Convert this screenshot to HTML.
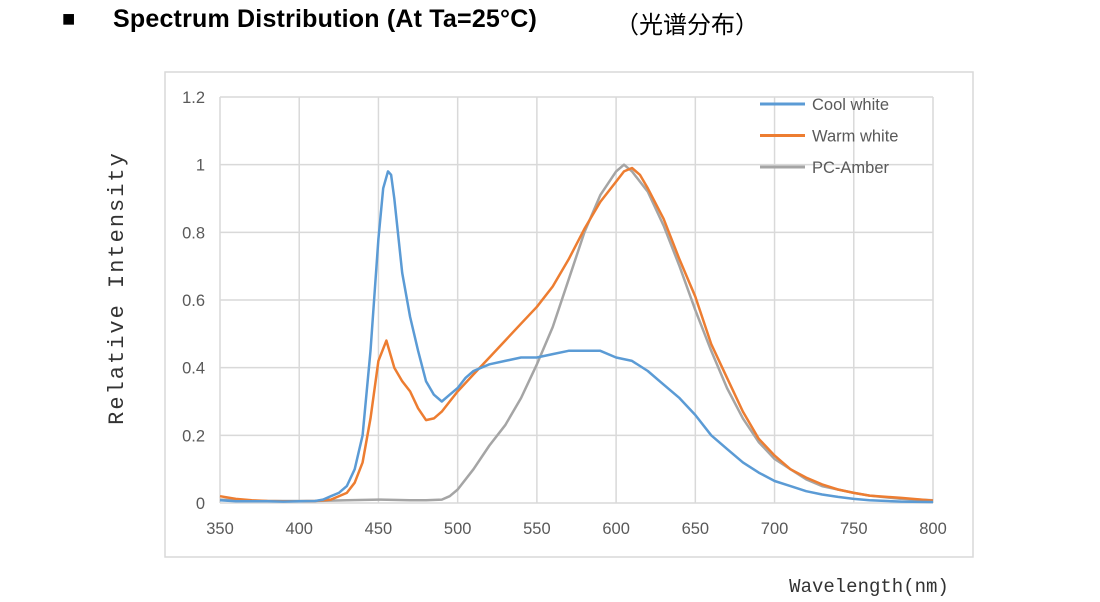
<!DOCTYPE html>
<html><head><meta charset="utf-8"><style>
body{margin:0;width:1100px;height:602px;background:#fff;overflow:hidden;font-family:"Liberation Sans","Noto Sans CJK SC",sans-serif}
.t{position:absolute;top:6px;font-weight:bold;color:#000;white-space:nowrap}
</style></head><body>
<div class="t" style="left:62px;font-size:22px">■</div>
<div class="t" style="left:113px;font-size:25px;top:5px;letter-spacing:0.2px">Spectrum Distribution (At Ta=25°C)</div>
<div class="t" style="left:615px;font-size:24px;top:5px;font-weight:normal">（光谱分布）</div>
<svg id="c" width="1100" height="602" style="position:absolute;left:0;top:0">
<rect x="165" y="72" width="808" height="485" fill="none" stroke="#d9d9d9" stroke-width="1.5"/>
<text x="117" y="288" transform="rotate(-90 117 288)" text-anchor="middle" dominant-baseline="middle" font-family="Liberation Mono,monospace" font-size="22" letter-spacing="2" fill="#333">Relative Intensity</text>
<text x="869" y="592" text-anchor="middle" font-family="Liberation Mono,monospace" font-size="19" fill="#333">Wavelength(nm)</text>
<g id="grid"></g><g id="series"></g><g id="legend"></g>
</svg>
<script>
const xTicks=[350,400,450,500,550,600,650,700,750,800];
const yTicks=[0,0.2,0.4,0.6,0.8,1,1.2];
const yTickLabels=["0","0.2","0.4","0.6","0.8","1","1.2"];
const seriesNames=["Cool white","Warm white","PC-Amber"];
const coolWl=[350,360,370,380,390,400,410,415,420,425,430,435,440,445,450,453,456,458,460,465,470,475,480,485,490,495,500,505,510,520,530,540,550,560,570,580,590,600,610,620,630,640,650,660,670,680,690,700,710,720,730,740,750,760,780,800];
const coolVals=[0.008,0.005,0.005,0.005,0.004,0.005,0.006,0.01,0.02,0.03,0.05,0.1,0.2,0.45,0.78,0.93,0.98,0.97,0.9,0.68,0.55,0.45,0.36,0.32,0.30,0.32,0.34,0.37,0.39,0.41,0.42,0.43,0.43,0.44,0.45,0.45,0.45,0.43,0.42,0.39,0.35,0.31,0.26,0.2,0.16,0.12,0.09,0.065,0.05,0.035,0.025,0.018,0.012,0.008,0.004,0.003];
const warmWl=[350,360,370,380,390,400,410,420,430,435,440,445,450,455,460,465,470,475,480,485,490,495,500,510,520,530,540,550,560,570,580,590,600,605,610,615,620,630,640,650,660,670,680,690,700,710,720,730,740,750,760,780,800];
const warmVals=[0.02,0.012,0.008,0.006,0.005,0.005,0.006,0.01,0.03,0.06,0.12,0.25,0.42,0.48,0.40,0.36,0.33,0.28,0.245,0.25,0.27,0.30,0.33,0.38,0.43,0.48,0.53,0.58,0.64,0.72,0.81,0.89,0.95,0.98,0.99,0.97,0.93,0.84,0.72,0.61,0.47,0.37,0.27,0.19,0.14,0.1,0.075,0.055,0.04,0.03,0.022,0.015,0.007];
const amberWl=[350,370,390,410,430,450,470,480,490,495,500,510,520,530,540,550,560,570,580,590,600,605,610,620,630,640,650,660,670,680,690,700,710,720,730,740,750,760,780,800];
const amberVals=[0.01,0.006,0.006,0.006,0.008,0.01,0.008,0.008,0.01,0.02,0.04,0.1,0.17,0.23,0.31,0.41,0.52,0.66,0.80,0.91,0.98,1.0,0.98,0.92,0.82,0.70,0.57,0.45,0.34,0.25,0.18,0.13,0.1,0.07,0.05,0.04,0.03,0.022,0.012,0.008];
const colors=["#5b9bd5","#ed7d31","#a5a5a5"];
const X0=220,X1=933,Y0=503,Y1=97;
const xs=v=>X0+(v-350)/(800-350)*(X1-X0);
const ys=v=>Y0-(v/1.2)*(Y0-Y1);
const NS="http://www.w3.org/2000/svg";
const grid=document.getElementById('grid'),ser=document.getElementById('series'),leg=document.getElementById('legend');
function mk(tag,at,parent){const e=document.createElementNS(NS,tag);for(const k in at)e.setAttribute(k,at[k]);parent.appendChild(e);return e;}
xTicks.forEach(t=>{
 const l=mk('line',{x1:xs(t),x2:xs(t),y1:Y1,y2:Y0,stroke:'#d9d9d9','stroke-width':1.5},grid);
 
 
 const tx=mk('text',{x:xs(t),y:Y0+31,'text-anchor':'middle','font-size':16.5,fill:'#595959'},grid);
 tx.textContent=t;
 
 
});
yTicks.forEach((t,i)=>{
 const l=mk('line',{x1:X0,x2:X1,y1:ys(t),y2:ys(t),stroke:'#d9d9d9','stroke-width':1.5},grid);
 
 
 const tx=mk('text',{x:205,y:ys(t)+6,'text-anchor':'end','font-size':16.5,fill:'#595959'},grid);
 tx.textContent=yTickLabels[i];
 
 
});
const data=[[coolWl,coolVals],[warmWl,warmVals],[amberWl,amberVals]];
[2,1,0].forEach(i=>{
 const [w,v]=data[i];
 const d=w.map((x,j)=>(j?'L':'M')+xs(x).toFixed(1)+','+ys(v[j]).toFixed(1)).join('');
 const p=mk('path',{d:d,fill:'none',stroke:colors[i],'stroke-width':2.5,'stroke-linejoin':'round'},ser);
 
 
});
seriesNames.forEach((n,i)=>{
 const y=104+i*31.5;
 const l=mk('line',{x1:760,x2:805,y1:y,y2:y,stroke:colors[i],'stroke-width':3},leg);
 
 
 const t=mk('text',{x:812,y:y+6,'font-size':16.5,fill:'#595959'},leg);
 t.textContent=n;
 
 
});
</script>
</body></html>
